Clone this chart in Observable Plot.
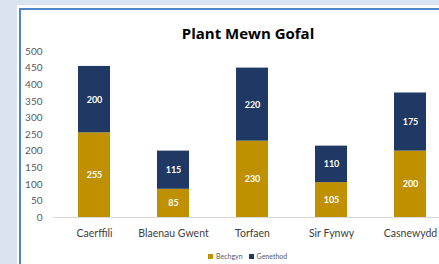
<!DOCTYPE html>
<html><head><meta charset="utf-8">
<script src="https://cdn.jsdelivr.net/npm/d3@7"></script>
<script src="https://cdn.jsdelivr.net/npm/@observablehq/plot@0.6"></script>
<style>
html,body{margin:0;padding:0;width:439px;height:264px;overflow:hidden;background:#dae3f0;font-family:Lato,"Open Sans",sans-serif;}
#outer{position:absolute;left:17px;top:5px;width:600px;height:400px;background:#fff;}
#panel{position:absolute;left:19px;top:8px;width:600px;height:400px;background:#fff;border-left:2px solid #4f86c6;border-top:2px solid #4f86c6;}
#title{position:absolute;left:0;width:496px;top:23px;text-align:center;font-weight:bold;font-size:15px;color:#000;font-family:"Open Sans",sans-serif;}
#chart{position:absolute;left:0;top:40px;width:460px;}
#chart svg{max-width:none !important;}
#legend{position:absolute;top:252px;left:208px;font-size:7px;color:#595959;display:flex;align-items:center;white-space:nowrap;}
#legend span.sw{display:inline-block;width:5px;height:5px;margin-right:3px;}
#legend span.item{display:inline-flex;align-items:center;margin-right:6px;}
</style></head>
<body>
<div id="outer"></div>
<div id="panel"></div>
<div id="title">Plant Mewn Gofal</div>
<div id="chart"></div>
<div id="legend"></div>
<script>
const categories = ["Caerffili", "Blaenau Gwent", "Torfaen", "Sir Fynwy", "Casnewydd"];
const bechgyn = [255, 85, 230, 105, 200];
const genethod = [200, 115, 220, 110, 175];
const seriesNames = ["Bechgyn", "Genethod"];
const seriesColors = ["#bf9000", "#1f3864"];
const yTicks = [0, 50, 100, 150, 200, 250, 300, 350, 400, 450, 500];

const data = [];
categories.forEach((c, i) => {
  data.push({cat: c, series: seriesNames[0], value: bechgyn[i]});
  data.push({cat: c, series: seriesNames[1], value: genethod[i]});
});

const chart = Plot.plot({
  width: 460,
  height: 205,
  marginLeft: 53,
  marginRight: 10,
  marginTop: 11,
  marginBottom: 28,
  style: {fontFamily: "Lato, 'Open Sans', sans-serif", background: "transparent", overflow: "visible", maxWidth: "none"},
  x: {domain: categories, paddingInner: 0.6, paddingOuter: 0.3, label: null},
  y: {domain: [0, 500], label: null},
  color: {domain: seriesNames, range: seriesColors},
  marks: [
    Plot.axisY({ticks: yTicks, tickSize: 0, tickPadding: 11, fontSize: 10, color: "#595959", label: null}),
    Plot.axisX({tickSize: 0, tickPadding: 12, fontSize: 10.5, color: "#404040", label: null}),
    Plot.ruleY([0], {stroke: "#d9d9d9", strokeWidth: 1}),
    Plot.barY(data, Plot.stackY({x: "cat", y: "value", fill: "series", order: seriesNames})),
    Plot.text(data, Plot.stackY({x: "cat", y: "value", z: "series", order: seriesNames, text: d => String(d.value), fill: "white", fontWeight: "bold", fontSize: 9}))
  ]
});
document.getElementById("chart").appendChild(chart);

const leg = document.getElementById("legend");
seriesNames.forEach((s, i) => {
  const it = document.createElement("span");
  it.className = "item";
  const sw = document.createElement("span");
  sw.className = "sw";
  sw.style.background = seriesColors[i];
  it.appendChild(sw);
  it.appendChild(document.createTextNode(s));
  leg.appendChild(it);
});
</script>
</body></html>
